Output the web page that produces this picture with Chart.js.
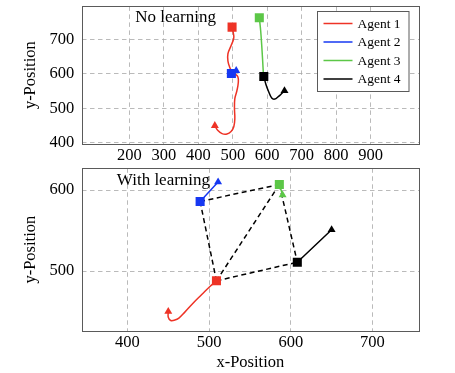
<!DOCTYPE html>
<html>
<head>
<meta charset="utf-8">
<script src="https://cdn.jsdelivr.net/npm/chart.js@4.4.1/dist/chart.umd.min.js"></script>
<style>
  html, body { margin: 0; padding: 0; background: #fff; }
  #wrap { position: relative; width: 455px; height: 373px; overflow: hidden; }
  canvas { position: absolute; left: 0; }
  #topChart { top: 0; width: 455px; height: 165px; }
  #bottomChart { top: 160px; width: 455px; height: 213px; }
</style>
</head>
<body>
<div id="wrap">
  <canvas id="topChart" width="455" height="165"></canvas>
  <canvas id="bottomChart" width="455" height="213"></canvas>
</div>
<script>
// ---- data -------------------------------------------------------------
const agentLabels = ['Agent 1', 'Agent 2', 'Agent 3', 'Agent 4'];

// Trajectories without learning (first point = start, last point = end)
const plainA1x = [448, 457, 469, 483, 495, 503, 506, 505, 506, 512, 516, 515, 506, 498, 492, 486, 486, 495, 503, 501, 498];
const plainA1y = [450, 436, 427, 426, 433, 447, 470, 499, 528, 551, 574, 591, 600, 606, 617, 637, 658, 681, 704, 721, 735];
const plainA2x = [510, 502, 496];
const plainA2y = [609, 603, 601];
const plainA3x = [589, 588, 585, 581, 577];
const plainA3y = [594, 614, 666, 724, 762];
const plainA4x = [650, 642, 632, 622, 613, 603, 596, 590];
const plainA4y = [551, 543, 534, 527, 530, 551, 570, 592];

// Trajectories with learning
const learnA1x = [450, 450, 453, 458, 463, 470, 480, 491, 501, 509];
const learnA1y = [450, 443, 439, 439.5, 442, 449, 460, 471, 481, 488];
const learnA2x = [511, 489];
const learnA2y = [610, 586];
const learnA3x = [590, 586];
const learnA3y = [594, 607];
const learnA4x = [650, 608];
const learnA4y = [551, 511];

// Communication links between final positions (agent indices)
const links = [[1, 0], [1, 2], [2, 0], [2, 3], [0, 3]];

// Tick values
const plainXTicks = [200, 300, 400, 500, 600, 700, 800, 900];
const plainYTicks = [400, 500, 600, 700];
const learnXTicks = [400, 500, 600, 700];
const learnYTicks = [500, 600];

// ---- styling ----------------------------------------------------------
const agentColors = ['#ee3326', '#1638f2', '#5cc747', '#000000'];
const drawOrder = [4, 2, 3, 1];   // lower value is drawn on top
const serif = "'Liberation Serif', 'DejaVu Serif', serif";
const gridColor = '#a8a8a8';
const frameColor = '#5a5a5a';

function zip(xs, ys) { return xs.map((x, i) => ({ x: x, y: ys[i] })); }

function agentDataset(i, xs, ys) {
  const last = xs.length - 1;
  return {
    label: agentLabels[i],
    data: zip(xs, ys),
    showLine: true,
    tension: 0.4,
    borderColor: agentColors[i],
    backgroundColor: agentColors[i],
    borderWidth: 1.5,
    order: drawOrder[i],
    pointStyle: c => (c.dataIndex === 0 ? 'triangle' : 'rect'),
    pointRadius: c => (c.dataIndex === 0 ? 4.6 : (c.dataIndex === last ? 6.4 : 0)),
    pointHoverRadius: 0,
    pointBorderWidth: 0,
    pointBackgroundColor: agentColors[i]
  };
}

function linkDatasets(xsList, ysList) {
  return links.map(([a, b]) => ({
    label: '',
    isLink: true,
    data: [
      { x: xsList[a][xsList[a].length - 1], y: ysList[a][ysList[a].length - 1] },
      { x: xsList[b][xsList[b].length - 1], y: ysList[b][ysList[b].length - 1] }
    ],
    showLine: true,
    tension: 0,
    borderColor: '#000',
    borderWidth: 1.5,
    borderDash: [5, 3.5],
    pointRadius: 0,
    pointHoverRadius: 0,
    order: 10
  }));
}

// Frame around the plotting area
const framePlugin = {
  id: 'frame',
  beforeDatasetsDraw(chart) {
    const a = chart.chartArea, ctx = chart.ctx;
    ctx.save();
    ctx.strokeStyle = frameColor;
    ctx.lineWidth = 1;
    ctx.strokeRect(Math.round(a.left) + 0.5, Math.round(a.top) + 0.5,
                   Math.round(a.right - a.left), Math.round(a.bottom - a.top));
    ctx.restore();
  }
};

// Caption placed inside the plot at data coordinates
function notePlugin(text, x, y) {
  return {
    id: 'note',
    beforeDatasetsDraw(chart) {
      const ctx = chart.ctx;
      ctx.save();
      ctx.font = '17px ' + serif;
      ctx.fillStyle = '#000';
      ctx.textAlign = 'left';
      ctx.textBaseline = 'middle';
      ctx.fillText(text, chart.scales.x.getPixelForValue(x), chart.scales.y.getPixelForValue(y));
      ctx.restore();
    }
  };
}

// Boxed legend in the upper right corner of the plot
const boxLegendPlugin = {
  id: 'boxLegend',
  afterDatasetsDraw(chart) {
    const a = chart.chartArea, ctx = chart.ctx;
    const items = chart.data.datasets.filter(d => !d.isLink);
    const rowH = 18.5, w = 91.5, h = 80;
    const x0 = Math.round(a.right - 10.5 - w) + 0.5;
    const y0 = Math.round(a.top + 4.5) + 0.5;
    ctx.save();
    ctx.fillStyle = '#fff';
    ctx.fillRect(x0, y0, w, h);
    ctx.strokeStyle = frameColor;
    ctx.lineWidth = 1;
    ctx.strokeRect(x0, y0, w, h);
    ctx.font = '13.5px ' + serif;
    ctx.textBaseline = 'middle';
    ctx.textAlign = 'left';
    items.forEach((d, i) => {
      const y = y0 + 12 + i * rowH;
      ctx.strokeStyle = d.borderColor;
      ctx.lineWidth = 1.5;
      ctx.beginPath();
      ctx.moveTo(x0 + 6, y);
      ctx.lineTo(x0 + 35, y);
      ctx.stroke();
      ctx.fillStyle = '#000';
      ctx.fillText(d.label, x0 + 40, y + 0.5);
    });
    ctx.restore();
  }
};

function scales(opt) {
  return {
    x: {
      type: 'linear', position: 'bottom', min: opt.xmin, max: opt.xmax,
      afterBuildTicks: s => { s.ticks = opt.xticks.map(v => ({ value: v })); },
      afterFit: s => { s.height = opt.xh; s.paddingLeft = 0; s.paddingRight = 0; },
      grid: { color: gridColor, lineWidth: 0.8, drawTicks: false, tickLength: 0 },
      border: { display: false, dash: [4.5, 3.5] },
      ticks: { font: { family: serif, size: 16.5 }, color: '#000', padding: 1.5, maxRotation: 0, autoSkip: false },
      title: { display: opt.xtitle, text: 'x-Position', color: '#000',
               font: { family: serif, size: 16.5 }, padding: { top: 0, bottom: 0 } }
    },
    y: {
      type: 'linear', position: 'left', min: opt.ymin, max: opt.ymax,
      afterBuildTicks: s => { s.ticks = opt.yticks.map(v => ({ value: v })); },
      afterFit: s => { s.width = 81.7; s.paddingTop = 0; s.paddingBottom = 0; },
      grid: { color: gridColor, lineWidth: 0.8, drawTicks: false, tickLength: 0 },
      border: { display: false, dash: [4.5, 3.5] },
      ticks: { font: { family: serif, size: 16.5 }, color: '#000', padding: 7.5, autoSkip: false },
      title: { display: true, text: 'y-Position', color: '#000',
               font: { family: serif, size: 16.5 }, padding: { top: 21, bottom: 0 } }
    }
  };
}

const common = {
  responsive: false,
  animation: false,
  events: [],
  plugins: { legend: { display: false }, tooltip: { enabled: false } }
};

// Upper panel: no learning
new Chart(document.getElementById('topChart'), {
  type: 'scatter',
  data: {
    datasets: [
      agentDataset(0, plainA1x, plainA1y),
      agentDataset(1, plainA2x, plainA2y),
      agentDataset(2, plainA3x, plainA3y),
      agentDataset(3, plainA4x, plainA4y)
    ]
  },
  options: Object.assign({}, common, {
    layout: { padding: { left: 0, top: 6, right: 36, bottom: 0 } },
    scales: scales({ xmin: 62, xmax: 1040, ymin: 397, ymax: 795,
                     xticks: plainXTicks, yticks: plainYTicks, xh: 21, xtitle: false })
  }),
  plugins: [framePlugin, notePlugin('No learning', 217, 763), boxLegendPlugin]
});

// Lower panel: with learning
const learnXs = [learnA1x, learnA2x, learnA3x, learnA4x];
const learnYs = [learnA1y, learnA2y, learnA3y, learnA4y];
new Chart(document.getElementById('bottomChart'), {
  type: 'scatter',
  data: {
    datasets: [
      agentDataset(0, learnA1x, learnA1y),
      agentDataset(1, learnA2x, learnA2y),
      agentDataset(2, learnA3x, learnA3y),
      agentDataset(3, learnA4x, learnA4y)
    ].concat(linkDatasets(learnXs, learnYs))
  },
  options: Object.assign({}, common, {
    layout: { padding: { left: 0, top: 8.3, right: 36, bottom: 0 } },
    scales: scales({ xmin: 344, xmax: 757, ymin: 426, ymax: 627,
                     xticks: learnXTicks, yticks: learnYTicks, xh: 42, xtitle: true })
  }),
  plugins: [framePlugin, notePlugin('With learning', 387, 612)]
});
</script>
</body>
</html>
